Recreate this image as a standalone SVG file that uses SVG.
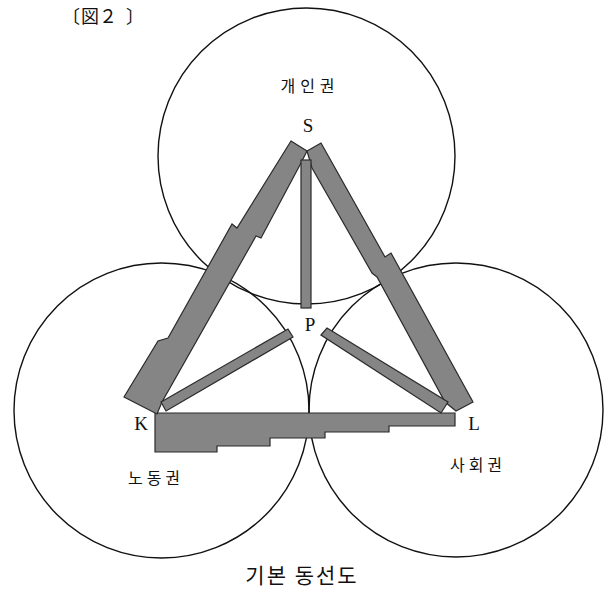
<svg xmlns="http://www.w3.org/2000/svg" width="610" height="589" viewBox="0 0 610 589">
<style>
.ring{fill:none;stroke:#111;stroke-width:1.4}
.bar{fill:#858585;stroke:#2a2a2a;stroke-width:1.2;stroke-linejoin:miter}
.kr{font-family:"Noto Sans CJK KR","Noto Sans",sans-serif;fill:#111}
.lt{font-family:"Liberation Serif","DejaVu Serif",serif;fill:#111;font-size:19px}
</style>
<rect width="610" height="589" fill="#fff"/>
<text x="62 81 99 126" y="23" style="font-family:'Noto Sans CJK JP',sans-serif;font-size:18px;fill:#111">〔図２〕</text>
<g id="zone-personal">
<ellipse class="ring" cx="306.5" cy="156" rx="148.5" ry="148"/>
<text class="kr" x="310" y="92" font-size="16" letter-spacing="5" text-anchor="middle">개인권</text>
</g>
<g id="zone-work">
<ellipse class="ring" cx="161.5" cy="410.5" rx="147.5" ry="147.5"/>
<text class="kr" x="156" y="484" font-size="16" letter-spacing="4" text-anchor="middle">노동권</text>
</g>
<g id="zone-social">
<ellipse class="ring" cx="456" cy="410" rx="147" ry="147"/>
<text class="kr" x="478" y="471" font-size="16" letter-spacing="4" text-anchor="middle">사회권</text>
</g>
<g id="connectors">
<polygon class="bar" points="155,413 455,413 455,426 389,426 389,432 325,432 325,438 270,438 270,446 217,446 217,452 155,452"/>
<polygon class="bar" points="291,141 307,151 301,163 261,238 256,236 162,402 157,414 124,397 158,341 168,338 232,224 237,228"/>
<polygon class="bar" points="321,143 385,257 391,253 473,402 456,411 445,402 377,277 372,273 312,168 307,151"/>
<rect class="bar" x="301" y="160" width="10" height="148"/>
<polygon class="bar" points="161,402 288,329 293,337 166,411"/>
<polygon class="bar" points="321,335 327,328 448,402 441,413"/>
</g>
<g id="node-S"><text class="lt" x="308" y="132" text-anchor="middle">S</text></g>
<g id="node-P"><text class="lt" x="310" y="331" text-anchor="middle">P</text></g>
<g id="node-K"><text class="lt" x="141" y="430" text-anchor="middle">K</text></g>
<g id="node-L"><text class="lt" x="474" y="430" text-anchor="middle">L</text></g>
<text class="kr" x="302" y="583" font-size="21" letter-spacing="2" text-anchor="middle">기본 동선도</text>
</svg>
